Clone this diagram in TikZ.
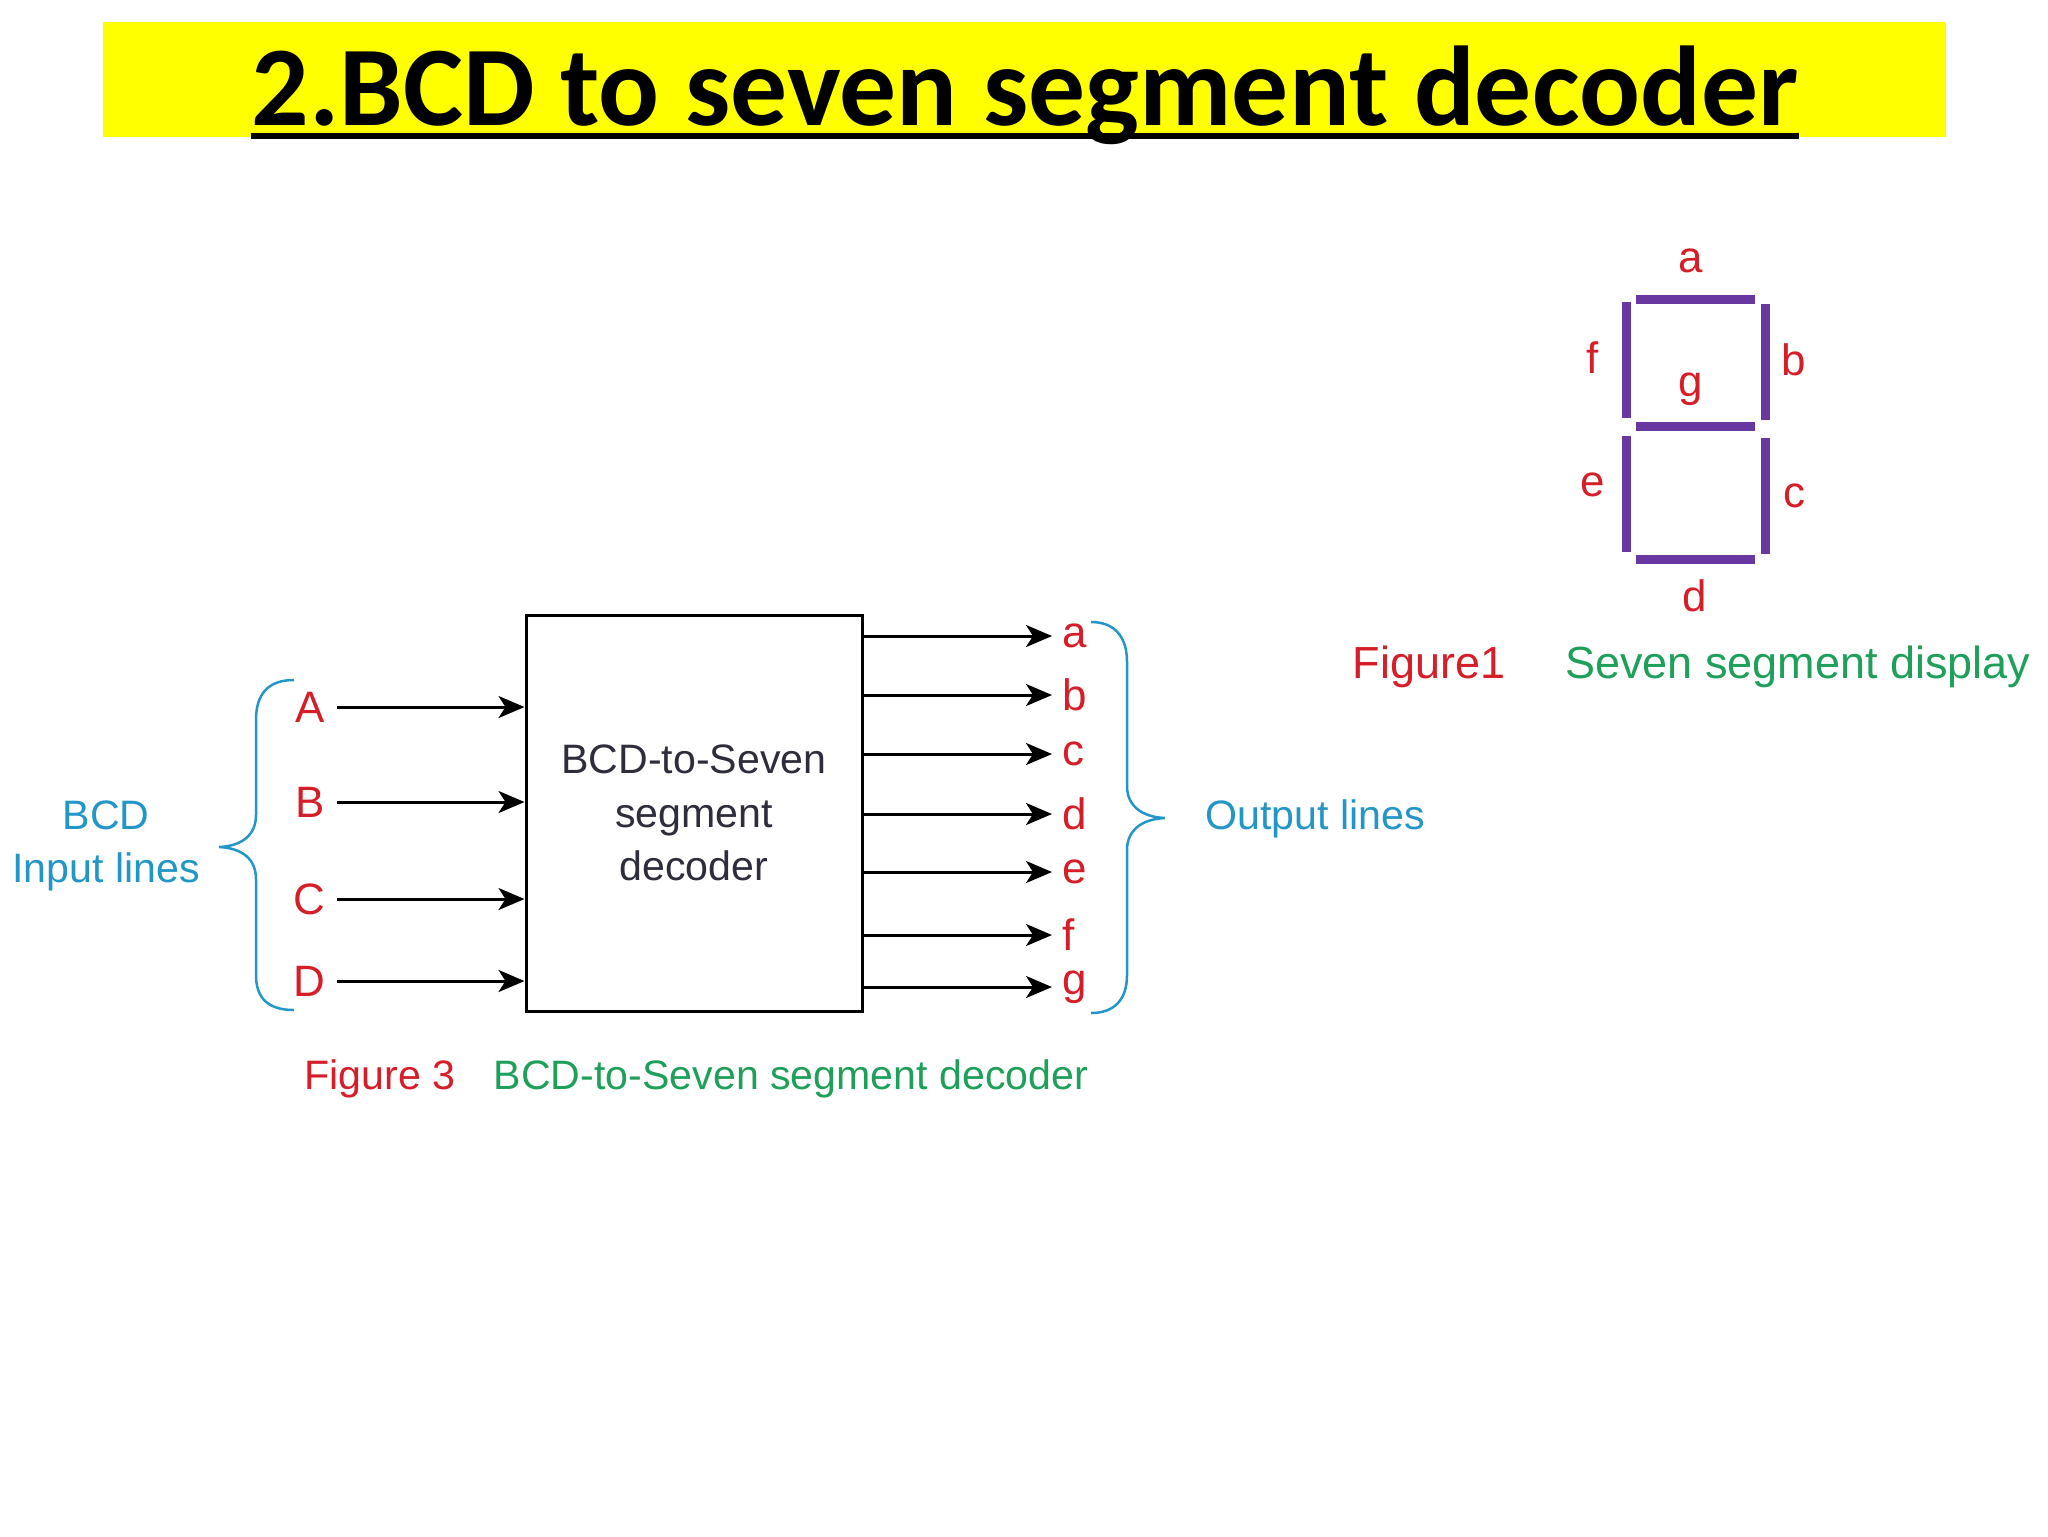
\documentclass[tikz,border=0pt]{standalone}
\usepackage{fontspec}
\setmainfont{Liberation Sans}
\newfontfamily\titlefont{Carlito}
\usetikzlibrary{arrows.meta}
\definecolor{lblred}{RGB}{214,30,40}
\definecolor{lblblue}{RGB}{35,150,200}
\definecolor{lblgreen}{RGB}{30,160,90}
\definecolor{segpurple}{RGB}{105,55,160}
\definecolor{boxtext}{RGB}{45,45,60}
\definecolor{titlebg}{RGB}{255,255,0}
\tikzset{
  sig/.style={-{Stealth[length=2.6mm,width=2.2mm,inset=0.7mm]}, line width=0.3mm},
  pin/.style={text=lblred, font=\fontsize{12.5}{14}\selectfont, inner sep=1pt},
  bracelab/.style={text=lblblue, font=\fontsize{11.7}{15}\selectfont, align=center},
  brace/.style={lblblue, line width=0.25mm},
  seg/.style={segpurple, line width=0.9mm},
  caption/.style={font=\fontsize{11.7}{14}\selectfont},
}
\begin{document}
\begin{tikzpicture}[x=0.1mm,y=-0.1mm]
  \useasboundingbox (0,0) rectangle (2048,1536);
  % Titulo
  \fill[titlebg] (103,22) rectangle (1946,137);
  \node[inner sep=0, anchor=base] (title) at (1025,125)
    {\titlefont\bfseries\fontsize{32.3}{36}\selectfont 2.BCD to seven segment decoder};
  \draw[line width=0.6mm] ([yshift=-1.1mm]title.base west) -- ([yshift=-1.1mm]title.base east);

  % Bloque decodificador
  \node[draw, line width=0.3mm, minimum width=33.6mm, minimum height=39.6mm,
        text=boxtext, align=center, font=\fontsize{11.7}{15.2}\selectfont] (dec) at (694,813)
    {BCD-to-Seven\\segment\\decoder};

  % Entradas
  \node[pin, anchor=east] (inA) at (329,707) {A};
  \node[pin, anchor=east] (inB) at (329,802) {B};
  \node[pin, anchor=east] (inC) at (329,899) {C};
  \node[pin, anchor=east] (inD) at (329,981) {D};
  \draw[sig] ([xshift=0.8mm]inA.east) -- (inA.east -| dec.west);
  \draw[sig] ([xshift=0.8mm]inB.east) -- (inB.east -| dec.west);
  \draw[sig] ([xshift=0.8mm]inC.east) -- (inC.east -| dec.west);
  \draw[sig] ([xshift=0.8mm]inD.east) -- (inD.east -| dec.west);

  % Salidas
  \node[pin, anchor=west] (outa) at (1058,636) {a};
  \node[pin, anchor=west] (outb) at (1058,695) {b};
  \node[pin, anchor=west] (outc) at (1058,754) {c};
  \node[pin, anchor=west] (outd) at (1058,814) {d};
  \node[pin, anchor=west] (oute) at (1058,872) {e};
  \node[pin, anchor=west] (outf) at (1058,935) {f};
  \node[pin, anchor=west] (outg) at (1058,987) {g};
  \draw[sig] (dec.east |- outa.west) -- ([xshift=-0.6mm]outa.west);
  \draw[sig] (dec.east |- outb.west) -- ([xshift=-0.6mm]outb.west);
  \draw[sig] (dec.east |- outc.west) -- ([xshift=-0.6mm]outc.west);
  \draw[sig] (dec.east |- outd.west) -- ([xshift=-0.6mm]outd.west);
  \draw[sig] (dec.east |- oute.west) -- ([xshift=-0.6mm]oute.west);
  \draw[sig] (dec.east |- outf.west) -- ([xshift=-0.6mm]outf.west);
  \draw[sig] (dec.east |- outg.west) -- ([xshift=-0.6mm]outg.west);

  % Llaves
  \draw[brace] (294,680) .. controls (268,680) and (256,694) .. (256,720) -- (256,815)
               .. controls (256,835) and (242,846) .. (219,847)
               .. controls (242,848) and (256,859) .. (256,879) -- (256,975)
               .. controls (256,998) and (268,1010) .. (294,1010);
  \draw[brace] (1091,622) .. controls (1114,622) and (1127,636) .. (1127,662) -- (1127,786)
               .. controls (1127,806) and (1142,817) .. (1165,818)
               .. controls (1142,819) and (1127,830) .. (1127,850) -- (1127,975)
               .. controls (1127,1000) and (1114,1013) .. (1091,1013);
  \node[bracelab] (bcdin) at (106,846) {BCD\\Input lines};
  \node[bracelab] (outlines) at (1315,819) {Output lines};

  % Pie figura 3
  \node[caption, text=lblred] (fig3) at (380,1079) {Figure 3};
  \node[caption, text=lblgreen] (fig3t) at (791,1079) {BCD-to-Seven segment decoder};

  % Display de siete segmentos
  \draw[seg] (1636,299) -- (1755,299);
  \draw[seg] (1765,304) -- (1765,420);
  \draw[seg] (1765,438) -- (1765,554);
  \draw[seg] (1636,559) -- (1755,559);
  \draw[seg] (1626,436) -- (1626,552);
  \draw[seg] (1626,302) -- (1626,418);
  \draw[seg] (1636,426) -- (1755,426);
  \node[pin] (sa) at (1691,261) {a};
  \node[pin] (sb) at (1794,360) {b};
  \node[pin] (sc) at (1794,496) {c};
  \node[pin] (sd) at (1695,596) {d};
  \node[pin] (se) at (1593,485) {e};
  \node[pin] (sf) at (1593,358) {f};
  \node[pin] (sg) at (1691,389) {g};

  % Pie figura 1
  \node[caption, text=lblred, font=\fontsize{12.8}{15}\selectfont] (fig1) at (1429,667) {Figure1};
  \node[caption, text=lblgreen, font=\fontsize{12.8}{15}\selectfont] (fig1t) at (1798,667) {Seven segment display};
\end{tikzpicture}
\end{document}
